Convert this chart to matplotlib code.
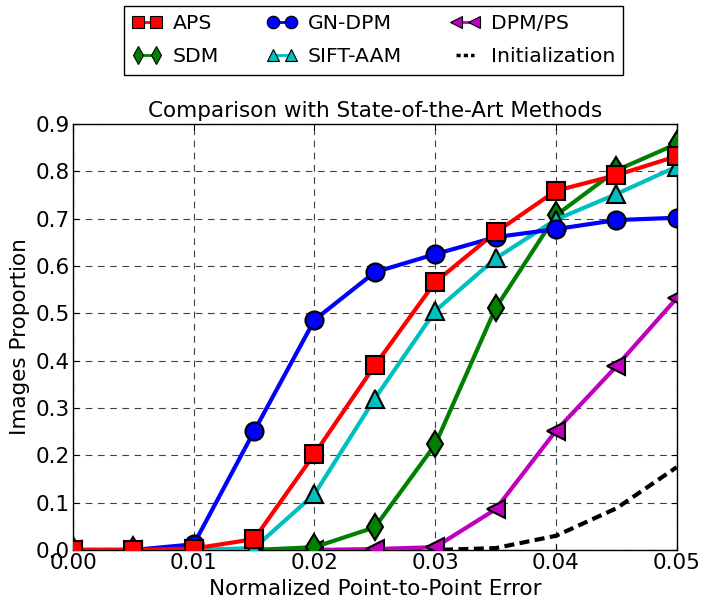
import matplotlib
matplotlib.use("Agg")
import matplotlib.pyplot as plt

x = [0.0, 0.005, 0.01, 0.015, 0.02, 0.025, 0.03, 0.035, 0.04, 0.045, 0.05]
aps = [0.0, 0.0, 0.003, 0.023, 0.203, 0.39, 0.566, 0.671, 0.759, 0.792, 0.832]
gn_dpm = [0.0, 0.0, 0.012, 0.251, 0.486, 0.587, 0.625, 0.661, 0.678, 0.697, 0.702]
dpm_ps = [0.0, 0.0, 0.0, 0.0, 0.0, 0.002, 0.006, 0.086, 0.252, 0.388, 0.532]
sdm = [0.0, 0.0, 0.0, 0.0, 0.006, 0.048, 0.223, 0.511, 0.707, 0.802, 0.858]
sift_aam = [0.0, 0.0, 0.0, 0.004, 0.118, 0.32, 0.505, 0.616, 0.698, 0.752, 0.81]
init = [0.0, 0.0, 0.0, 0.0, 0.0, 0.0, 0.0, 0.004, 0.03, 0.088, 0.175]

xticks = [0.0, 0.01, 0.02, 0.03, 0.04, 0.05]
yticks = [0.0, 0.1, 0.2, 0.3, 0.4, 0.5, 0.6, 0.7, 0.8, 0.9]

plt.rcParams['font.family'] = ['DejaVu Sans']
fs = 15.5
lfs = 14.7
fig = plt.figure(figsize=(7.02, 6.02), dpi=100)
ax = fig.add_axes([0.104, 0.0864, 0.860, 0.7076])

lw = 3
ms = 13
mew = 1.5
ax.plot(x, init, color='black', linestyle=(0, (2.4, 1.3)), linewidth=lw, label='Initialization', zorder=2)
ax.plot(x, dpm_ps, color='#bf00bf', marker='<', markersize=ms, markeredgecolor='black', markeredgewidth=mew, linewidth=lw, label='DPM/PS', zorder=3)
ax.plot(x, sdm, color='green', marker='d', markersize=ms, markeredgecolor='black', markeredgewidth=mew, linewidth=lw, label='SDM', zorder=3)
ax.plot(x, sift_aam, color='#00bfbf', marker='^', markersize=ms, markeredgecolor='black', markeredgewidth=mew, linewidth=lw, label='SIFT-AAM', zorder=3)
ax.plot(x, gn_dpm, color='blue', marker='o', markersize=ms, markeredgecolor='black', markeredgewidth=mew, linewidth=lw, label='GN-DPM', zorder=3)
ax.plot(x, aps, color='red', marker='s', markersize=ms, markeredgecolor='black', markeredgewidth=mew, linewidth=lw, label='APS', zorder=4)

ax.set_xlim(0, 0.05)
ax.set_ylim(0, 0.9)
ax.set_xticks(xticks)
ax.set_xticklabels(['%.2f' % v for v in xticks])
ax.set_yticks(yticks)
ax.set_yticklabels(['%.1f' % v for v in yticks])
ax.tick_params(direction='in', labelsize=fs, length=4, top=True, right=True, pad=2.5)
ax.grid(True, color='black', linestyle=(0, (6, 5)), linewidth=0.8, alpha=0.75)
ax.set_axisbelow(True)
for s in ax.spines.values():
    s.set_linewidth(1.0)
ax.set_xlabel('Normalized Point-to-Point Error', fontsize=fs, labelpad=4)
ax.set_ylabel('Images Proportion', fontsize=fs, labelpad=4)
ax.set_title('Comparison with State-of-the-Art Methods', fontsize=fs, pad=5)

h, l = ax.get_legend_handles_labels()
d = dict(zip(l, h))
order = ['APS', 'SDM', 'GN-DPM', 'SIFT-AAM', 'DPM/PS', 'Initialization']
leg = fig.legend([d[k] for k in order], order, loc='upper center', bbox_to_anchor=(0.532, 0.99),
                 ncol=3, fontsize=lfs, numpoints=2, fancybox=False, edgecolor='black',
                 framealpha=1, handlelength=1.5, handletextpad=0.5, columnspacing=2.35,
                 borderpad=0.4, labelspacing=0.7, borderaxespad=0)
leg.get_frame().set_linewidth(1.0)
for lh in leg.get_lines():
    lh.set_markersize(9)
    lh.set_markeredgewidth(0.8)
    lh.set_linewidth(2)
    if lh.get_label() == 'Initialization' or lh.get_marker() in (None, 'None', ''):
        lh.set_linewidth(2.5)
        lh.set_linestyle((0, (1.2, 0.9)))

fig.savefig('out.png', dpi=100)
